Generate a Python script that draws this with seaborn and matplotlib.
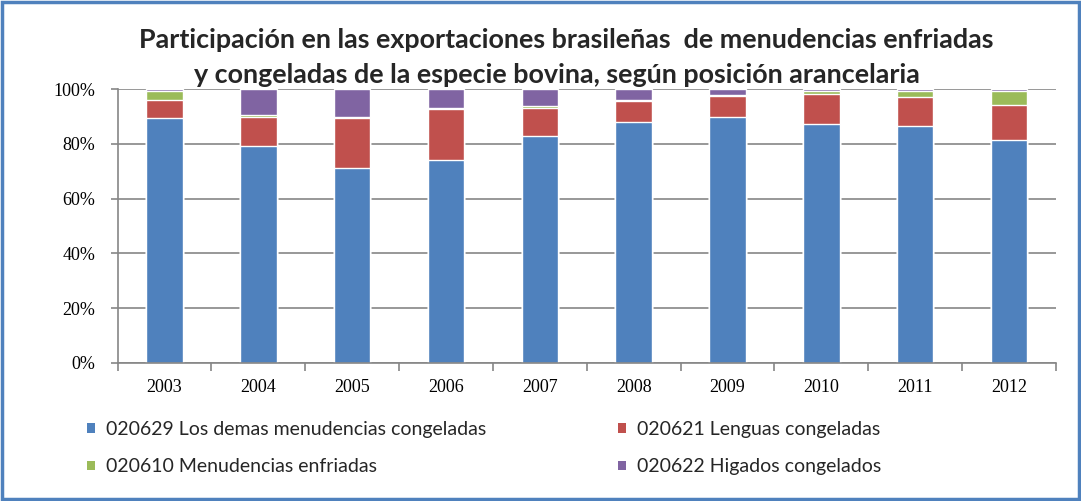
import numpy as np
import pandas as pd
import matplotlib
matplotlib.use("Agg")
import matplotlib.pyplot as plt
from matplotlib.patches import Rectangle, Patch
from matplotlib.ticker import FixedLocator, PercentFormatter
import seaborn as sns

years = ["2003", "2004", "2005", "2006", "2007", "2008", "2009", "2010", "2011", "2012"]
s020629 = [89.6, 79.4, 71.3, 74.1, 83.0, 88.1, 89.9, 87.4, 86.7, 81.6]
s020621 = [6.5, 10.5, 18.2, 18.7, 10.2, 7.6, 7.6, 10.9, 10.5, 12.7]
s020610 = [3.3, 0.7, 0.4, 0.4, 0.8, 0.4, 0.4, 1.1, 2.2, 5.1]
s020622 = [0.6, 9.4, 10.1, 6.8, 6.0, 3.9, 2.1, 0.6, 0.6, 0.6]

series_names = ["020629 Los demas menudencias congeladas",
                "020621 Lenguas congeladas",
                "020610 Menudencias enfriadas",
                "020622 Higados congelados"]
colors = ["#4F81BD", "#C0504D", "#9BBB59", "#8064A2"]
title_lines = ["Participación en las exportaciones brasileñas  de menudencias enfriadas",
               "y congeladas de la especie bovina, según posición arancelaria"]

sns.set_theme(style="white")
plt.rcParams['font.family'] = ['Lato', 'DejaVu Sans']

df = pd.DataFrame({"year": years, "a": s020629, "b": s020621, "c": s020610, "d": s020622})
vals = df[["a", "b", "c", "d"]].to_numpy()
cum = np.cumsum(vals, axis=1)

fig = plt.figure(figsize=(10.81, 5.01), dpi=100)
ax = fig.add_axes([0.1088, 0.276, 0.868, 0.5458])

# draw from the top of the stack down so each lower segment overlays
for i in range(3, -1, -1):
    d = pd.DataFrame({"year": years, "v": cum[:, i]})
    sns.barplot(data=d, x="year", y="v", color=colors[i], width=0.39,
                saturation=1, ax=ax, zorder=2)

ax.set_xlim(-0.5, len(years) - 0.5)
ax.set_ylim(0, 100)
ax.yaxis.set_major_locator(FixedLocator([0, 20, 40, 60, 80, 100]))
ax.yaxis.set_major_formatter(PercentFormatter(decimals=0))
ax.grid(axis="y", color="#868686", lw=1.2, zorder=0)
ax.set_axisbelow(True)
ax.set_xlabel("")
ax.set_ylabel("")
for s in ["top", "right"]:
    ax.spines[s].set_visible(False)
for s in ["left", "bottom"]:
    ax.spines[s].set_color("#868686")
    ax.spines[s].set_linewidth(1.2)

ax.xaxis.set_minor_locator(FixedLocator(np.arange(-0.5, len(years), 1.0)))
ax.tick_params(axis="x", which="major", length=0, pad=12)
ax.tick_params(axis="x", which="minor", length=6, width=1.2, color="#868686", direction="out", bottom=True)
ax.tick_params(axis="y", length=5, width=1.2, color="#868686", direction="out", left=True, pad=11)
for lab in ax.get_xticklabels() + ax.get_yticklabels():
    lab.set_fontfamily("Liberation Serif")
    lab.set_fontsize(13)
    lab.set_color("black")

fig.text(566 / 1081, 1 - 48 / 501, title_lines[0], ha="center", va="baseline",
         fontsize=19.4, fontweight="bold")
fig.text(557 / 1081, 1 - 83 / 501, title_lines[1], ha="center", va="baseline",
         fontsize=19.4, fontweight="bold")

# order handles so that rows read: blue, red / green, purple
order = [0, 2, 1, 3]
handles = [Patch(facecolor=colors[k], edgecolor="none") for k in order]
labels = [series_names[k] for k in order]
fig.legend(handles, labels, loc="upper left", bbox_to_anchor=(87 / 1081, 1 - 421 / 501),
           ncol=2, frameon=False, fontsize=14, handlelength=0.4, handleheight=0.4,
           handletextpad=0.6, columnspacing=6.75, labelspacing=1.05, borderpad=0,
           borderaxespad=0)

fig.patches.append(Rectangle((0.002, 0.003), 0.996, 0.994, transform=fig.transFigure,
                             fill=False, edgecolor="#4F81BD", lw=2.5))

fig.savefig("out.png", dpi=100)
